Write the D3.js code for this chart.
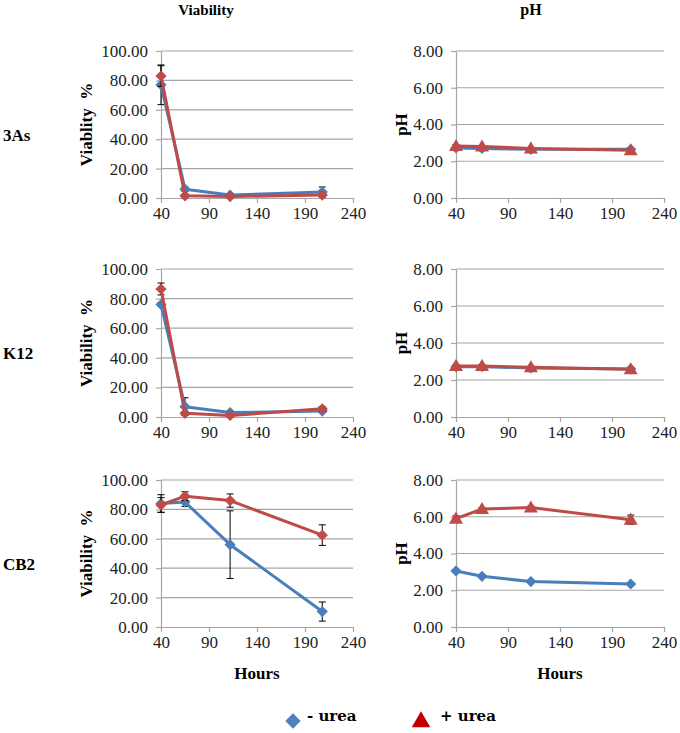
<!DOCTYPE html>
<html>
<head>
<meta charset="utf-8">
<script src="https://cdn.jsdelivr.net/npm/d3@7"></script>
<style>
  body { margin: 0; background: #fff; }
</style>
</head>
<body>
<svg id="canvas" width="680" height="733"></svg>
<script>
// hours sampled
let hours = [40, 65, 112, 208]
let xTicks = [40, 90, 140, 190, 240]
let viabTicks = [0, 20, 40, 60, 80, 100]
let phTicks = [0, 2, 4, 6, 8]
let strains = ['3As', 'K12', 'CB2']

// viability %, - urea / + urea, with error
let viabMinus = [[77, 6, 2, 4], [76, 7, 3, 4], [84, 85, 56, 10.5]]
let viabMinusErr = [[13.5, 1.5, 1, 3.5], [1, 6, 1, 1], [6, 3, 23, 6.5]]
let viabPlus = [[83, 1.5, 1, 2], [86.5, 2.5, 1, 5.5], [83, 89, 86, 62.5]]
let viabPlusErr = [[7, 1, 0.5, 1], [4, 1, 0.5, 1.5], [5, 3, 4.5, 7]]

// pH, - urea / + urea
let phMinus = [[2.72, 2.7, 2.65, 2.65], [2.72, 2.72, 2.65, 2.6], [3.05, 2.76, 2.47, 2.34]]
let phPlus = [[2.83, 2.8, 2.7, 2.6], [2.76, 2.76, 2.69, 2.58], [5.9, 6.42, 6.5, 5.84]]
let phPlusErr = [[0.08, 0.05, 0.05, 0.05], [0.05, 0.05, 0.05, 0.05], [0.15, 0.08, 0.08, 0.25]]

let blue = '#4A7EBB'
let red = '#BE4B48'
let grid = '#a6a6a6'
let serif = "'Liberation Serif', 'Times New Roman', serif"

let canvas = d3.select('#canvas').style('font-family', serif)

let rows = [
    {top: 51, bottom: 198},
    {top: 269, bottom: 417},
    {top: 480, bottom: 627}
]

let diamond = d3.symbol().type(d3.symbolDiamond2).size(80)
let triangle = d3.symbol().type(d3.symbolTriangle).size(85)

let drawPanel = (left, right, row, yMax, yTicks, yTitle, titleX, series, showHours) => {
    let x = d3.scaleLinear().domain([40, 240]).range([left, right])
    let y = d3.scaleLinear().domain([0, yMax]).range([row.bottom, row.top])
    let g = canvas.append('g')

    // gridlines
    g.selectAll('.grid')
        .data(yTicks.slice(1))
        .enter()
        .append('line')
        .attr('x1', left).attr('x2', right)
        .attr('y1', d => y(d)).attr('y2', d => y(d))
        .attr('stroke', grid).attr('stroke-width', 1.2)

    // axes
    let yAxis = d3.axisLeft(y).tickValues(yTicks).tickSize(5).tickSizeOuter(0)
        .tickFormat(d3.format('.2f'))
    let ya = g.append('g').attr('transform', 'translate(' + left + ',0)').call(yAxis)
    let xAxis = d3.axisBottom(x).tickValues(xTicks).tickSize(5).tickSizeOuter(0)
    let xa = g.append('g').attr('transform', 'translate(0,' + row.bottom + ')').call(xAxis)
    ;[ya, xa].forEach(a => {
        a.attr('font-size', 17).style('font-family', serif)
        a.select('.domain').attr('stroke', grid).attr('stroke-width', 1.2)
        a.selectAll('.tick line').attr('stroke', grid).attr('stroke-width', 1.2)
        a.selectAll('text').attr('fill', '#222').style('font-family', serif)
    })
    ya.selectAll('text').attr('x', -13)
    xa.selectAll('text').attr('y', 9)

    // y title
    g.append('text')
        .attr('transform', 'translate(' + titleX + ',' + ((row.top + row.bottom) / 2) + ') rotate(-90)')
        .attr('text-anchor', 'middle')
        .attr('font-size', 17).attr('font-weight', 'bold')
        .attr('xml:space', 'preserve')
        .text(yTitle)

    if (showHours) {
        g.append('text')
            .attr('x', (left + right) / 2).attr('y', row.bottom + 52)
            .attr('text-anchor', 'middle')
            .attr('font-size', 17).attr('font-weight', 'bold')
            .text('Hours')
    }

    series.forEach(s => {
        let pts = hours.map((h, i) => ({h: h, v: s.values[i], e: s.err ? s.err[i] : 0}))

        // error bars
        pts.filter(p => p.e > 0).forEach(p => {
            let eg = g.append('g').attr('stroke', '#000').attr('stroke-width', 1)
            eg.append('line').attr('x1', x(p.h)).attr('x2', x(p.h))
                .attr('y1', y(p.v - p.e)).attr('y2', y(p.v + p.e))
            ;[p.v - p.e, p.v + p.e].forEach(v => {
                eg.append('line').attr('x1', x(p.h) - 3.5).attr('x2', x(p.h) + 3.5)
                    .attr('y1', y(v)).attr('y2', y(v))
            })
        })

        g.append('path')
            .datum(pts)
            .attr('fill', 'none')
            .attr('stroke', s.color)
            .attr('stroke-width', 3)
            .attr('stroke-linejoin', 'round')
            .attr('d', d3.line().x(d => x(d.h)).y(d => y(d.v)))

        g.selectAll('.m')
            .data(pts)
            .enter()
            .append('path')
            .attr('transform', d => 'translate(' + x(d.h) + ',' + (y(d.v) + (s.shape === 'triangle' ? 1 : 0)) + ')')
            .attr('d', s.shape === 'triangle' ? triangle : diamond)
            .attr('fill', s.color)
    })
}

strains.forEach((name, i) => {
    let row = rows[i]
    canvas.append('text')
        .attr('x', 3).attr('y', (row.top + row.bottom) / 2 + 16)
        .attr('font-size', 17).attr('font-weight', 'bold')
        .text(name)

    drawPanel(161, 353, row, 100, viabTicks, i === 0 ? 'Viablity  %' : 'Viability  %', 92, [
        {values: viabMinus[i], err: viabMinusErr[i], color: blue, shape: 'diamond'},
        {values: viabPlus[i], err: viabPlusErr[i], color: red, shape: 'diamond'}
    ], i === 2)

    drawPanel(456, 664, row, 8, phTicks, 'pH', 407, [
        {values: phMinus[i], err: null, color: blue, shape: 'diamond'},
        {values: phPlus[i], err: phPlusErr[i], color: red, shape: 'triangle'}
    ], i === 2)
})

// column titles
canvas.append('text').attr('x', 206).attr('y', 15)
    .attr('text-anchor', 'middle').attr('font-size', 15).attr('font-weight', 'bold')
    .text('Viability')
canvas.append('text').attr('x', 531).attr('y', 15)
    .attr('text-anchor', 'middle').attr('font-size', 16).attr('font-weight', 'bold')
    .text('pH')

// legend
let legend = canvas.append('g')
legend.append('path')
    .attr('transform', 'translate(293,721)')
    .attr('d', d3.symbol().type(d3.symbolDiamond2).size(150))
    .attr('fill', '#4F81BD')
legend.append('text').attr('x', 307).attr('y', 721)
    .attr('font-size', 15).attr('font-weight', 'bold')
    .style('font-family', "'DejaVu Serif', serif")
    .text('- urea')
legend.append('path')
    .attr('transform', 'translate(421,722)')
    .attr('d', d3.symbol().type(d3.symbolTriangle).size(150))
    .attr('fill', '#C00000')
legend.append('text').attr('x', 440).attr('y', 721)
    .attr('font-size', 15).attr('font-weight', 'bold')
    .style('font-family', "'DejaVu Serif', serif")
    .text('+ urea')
</script>
</body>
</html>
